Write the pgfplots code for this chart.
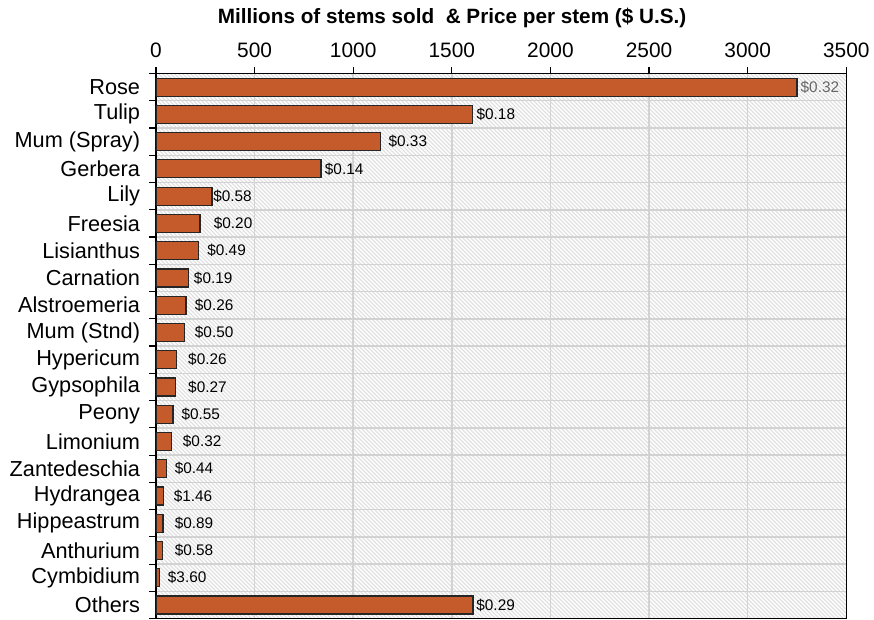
\documentclass[border=0pt]{standalone}
\usepackage{pgfplots}
\pgfplotsset{compat=1.18}
\usepackage{pgfplotstable}
\usepackage{fontspec}
\setmainfont{Liberation Sans}
\usetikzlibrary{patterns.meta}
\definecolor{barc}{RGB}{197,91,42}
\definecolor{gridc}{RGB}{210,210,210}

\pgfplotstableread{
idx val lx price
0 3250 3267 0.32
1 1605 1624 0.18
2 1140 1178 0.33
3 837 855 0.14
4 284 289 0.58
5 223 292 0.20
6 214 259 0.49
7 165 191 0.19
8 152 196 0.26
9 144 196 0.50
10 106 162 0.26
11 98 162 0.27
12 86 128 0.55
13 78 135 0.32
14 54 94 0.44
15 37 89 1.46
16 36 94 0.89
17 35 94 0.58
18 20 59 3.60
19 1607 1623 0.29
}\data

\begin{document}
\begin{tikzpicture}
\begin{axis}[
  name=ax, at={(0,0)}, anchor=south west,
  scale only axis, width=413.4pt, height=326.5pt,
  xmin=0, xmax=3500, ymin=-0.5, ymax=19.5, y dir=reverse,
  axis line style={black, line width=0.8pt},
  xtick={0,500,...,3500}, xtick pos=top, xticklabel pos=top,
  tick align=outside, major tick length=4pt,
  tick style={black, line width=0.7pt},
  /pgf/number format/assume math mode=true,
  /pgf/number format/1000 sep={},
  xticklabel style={font=\fontsize{12.5}{14}\selectfont, yshift=2pt},
  ytick={-0.5,0.5,...,19.5}, yticklabel={\mbox{}}, ytick pos=left,
  extra y ticks={0,...,19},
  extra y tick labels={Rose,Tulip,Mum (Spray),Gerbera,Lily,Freesia,Lisianthus,Carnation,Alstroemeria,Mum (Stnd),Hypericum,Gypsophila,Peony,Limonium,Zantedeschia,Hydrangea,Hippeastrum,Anthurium,Cymbidium,Others},
  extra y tick style={major tick length=0pt, grid=none, yticklabel style={font=\fontsize{13}{15}\selectfont, anchor=east, xshift=-6pt}},
  xmajorgrids, ymajorgrids,
  grid style={gridc, line width=0.9pt},
  axis background/.style={fill=white, postaction={pattern={Lines[angle=-45,distance=1.6939pt,line width=0.6pt]}, pattern color=black!13}},
  title={Millions of stems sold\ \ \& Price per stem (\$ U.S.)},
  title style={at={(0.429,1)}, anchor=base, yshift=24.2pt, font=\fontsize{12.4}{14}\selectfont\bfseries},
]
\addplot[xbar, bar width=0.66, fill=barc, draw=black!85, line width=0.7pt] table[x=val,y=idx]{\data};
\addplot[draw=none, mark=none, skip coords between index={0}{1},
  nodes near coords={\$\pgfplotspointmeta}, point meta=explicit symbolic,
  every node near coord/.style={anchor=west, inner sep=0pt, font=\fontsize{9.2}{11}\selectfont, text=black}]
  table[x=lx,y=idx,meta=price]{\data};
\addplot[draw=none, mark=none, skip coords between index={1}{20},
  nodes near coords={\$\pgfplotspointmeta}, point meta=explicit symbolic,
  every node near coord/.style={anchor=west, inner sep=0pt, font=\fontsize{9.2}{11}\selectfont, text=black!60}]
  table[x=lx,y=idx,meta=price]{\data};
\end{axis}
\pgfresetboundingbox
\path (-93.4pt,-0.3pt) rectangle (430pt,370.5pt);
\end{tikzpicture}
\end{document}
